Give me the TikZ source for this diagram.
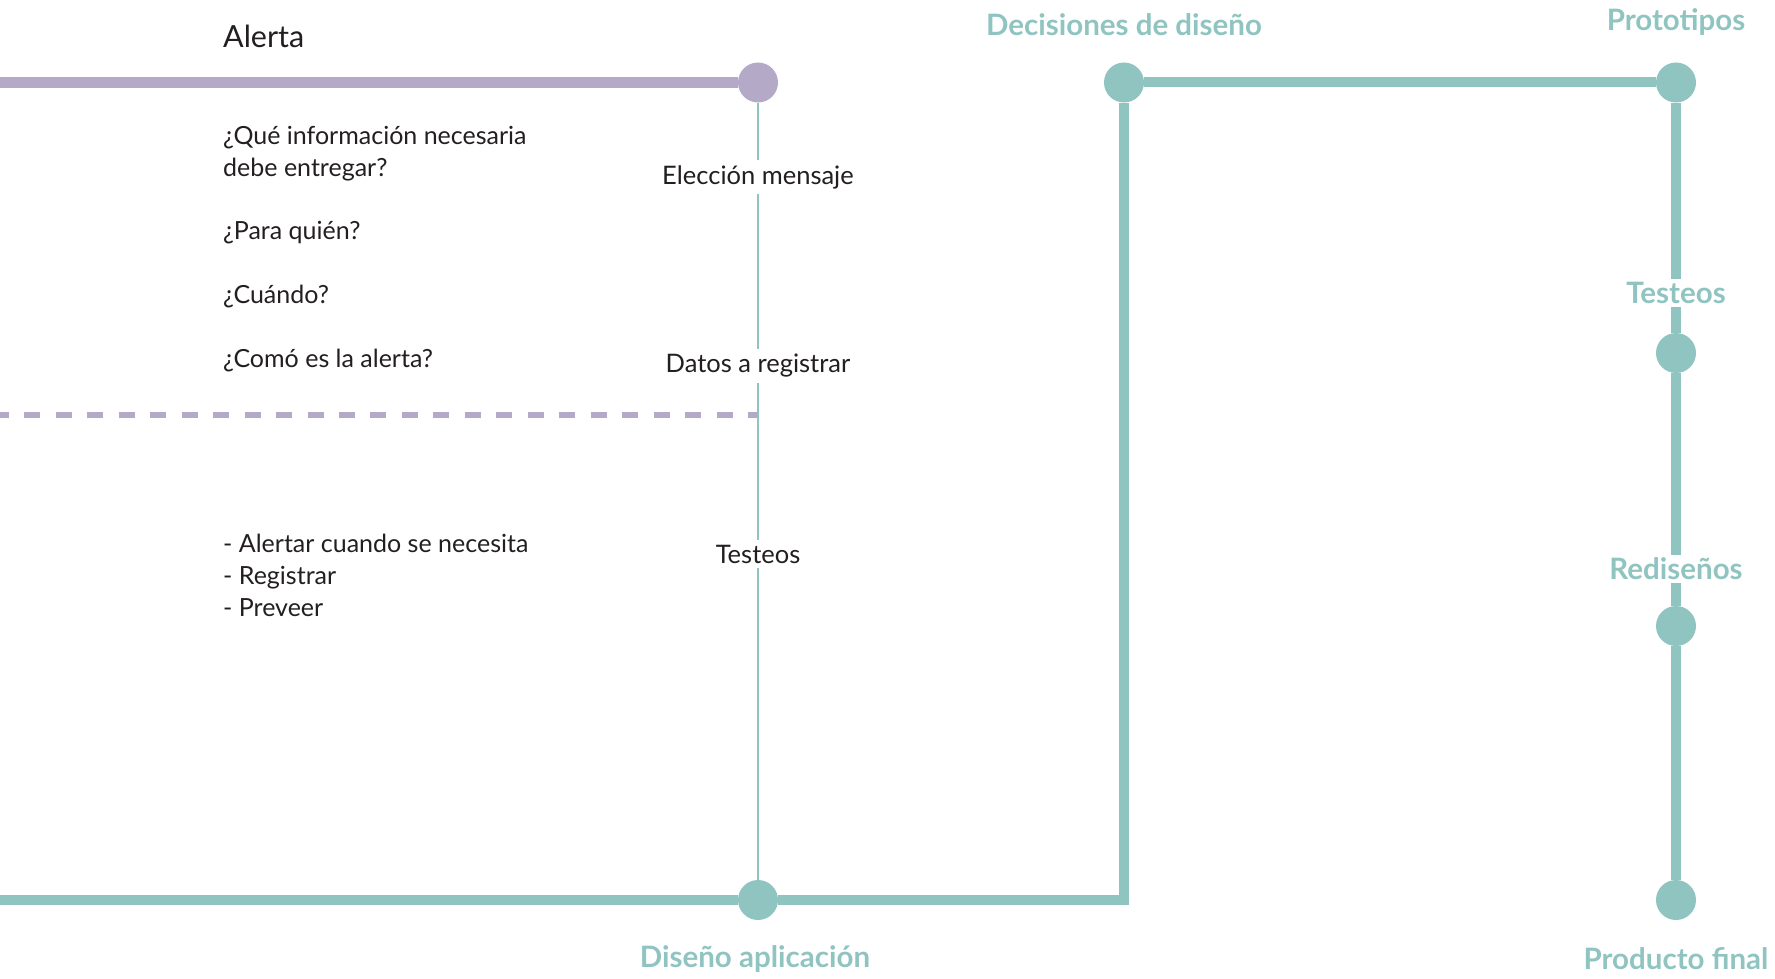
\documentclass[tikz,border=0pt]{standalone}
\usepackage{fontspec}
\setmainfont{Lato}
\definecolor{verde}{RGB}{143,196,193}
\definecolor{lila}{RGB}{180,170,200}
\definecolor{tinta}{RGB}{35,31,32}
\begin{document}
\begin{tikzpicture}[x=1pt,y=-1pt,
    punto/.style={circle,inner sep=0pt,minimum size=40pt},
    hito/.style={text=verde,font=\fontsize{29.5}{34}\selectfont\bfseries,inner sep=3pt},
    texto/.style={text=tinta,font=\fontsize{25}{32}\selectfont,align=left,inner sep=0pt,anchor=west},
    paso/.style={text=tinta,fill=white,font=\fontsize{25.5}{32}\selectfont,inner sep=5pt}]
\useasboundingbox (0,0) rectangle (1775,979);
% puntos
\node[punto,fill=lila] (alerta) at (758,82.5) {};
\node[punto,fill=verde] (aplic) at (758,900) {};
\node[punto,fill=verde] (decis) at (1124,82.5) {};
\node[punto,fill=verde] (proto) at (1676,82.5) {};
\node[punto,fill=verde] (test) at (1676,353) {};
\node[punto,fill=verde] (redis) at (1676,626) {};
\node[punto,fill=verde] (final) at (1676,900) {};
\coordinate (iniA) at (0,82.5);
\coordinate (iniB) at (0,900);
\coordinate (esq) at (1124,900);
\coordinate (iniC) at (0,415);
\coordinate (finC) at (758,415);
% lineas
\draw[lila,line width=10.5pt] (iniA) -- (alerta);
\draw[lila,line width=5.5pt,dash pattern=on 16pt off 15.46pt,dash phase=6pt] (finC) -- (iniC);
\draw[verde,line width=2pt] (alerta) -- (aplic);
\draw[verde,line width=10pt] (iniB) -- (aplic) -- (esq) -- (decis) -- (proto) -- (test) -- (redis) -- (final);
% textos
\node[texto] (titulo) at (223,36) {\fontsize{30.5}{36}\selectfont Alerta};
\node[texto] (preg1) at (223,153.5) {¿Qué información necesaria\\debe entregar?};
\node[texto] (preg2) at (223,233) {¿Para quién?};
\node[texto] (preg3) at (223,297) {¿Cuándo?};
\node[texto] (preg4) at (223,361) {¿Comó es la alerta?};
\node[texto] (lista) at (223,575) {- Alertar cuando se necesita\\- Registrar\\- Preveer};
\node[paso] (elec) at (758,177) {Elección mensaje};
\node[paso] (datos) at (758,366) {Datos a registrar};
\node[paso] (prueba) at (758,554) {Testeos};
\node[hito] (tdecis) at (1124,25) {Decisiones de diseño};
\node[hito] (tproto) at (1676,22.5) {Prototipos};
\node[hito,fill=white] (ttest) at (1676,293) {Testeos};
\node[hito,fill=white] (tredis) at (1676,569) {Rediseños};
\node[hito] (taplic) at (755,959) {Diseño aplicación};
\node[hito] (tfinal) at (1676,959) {Producto final};
\end{tikzpicture}
\end{document}
